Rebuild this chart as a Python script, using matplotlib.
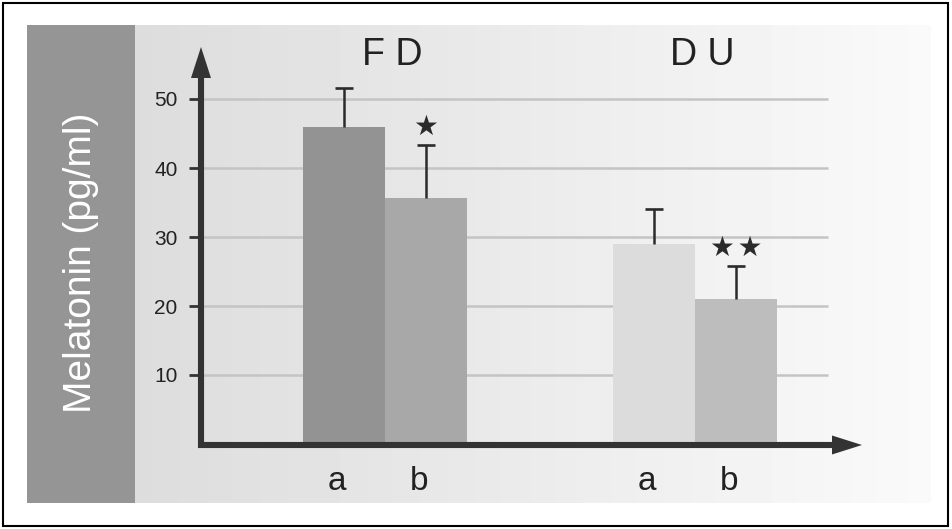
import numpy as np
import matplotlib
matplotlib.use("Agg")
import matplotlib.pyplot as plt
from matplotlib.patches import Rectangle, Polygon
from matplotlib.transforms import offset_copy

plt.rcParams['font.family'] = ['Liberation Sans', 'DejaVu Sans']

# ---- data ----
groups = ["F D", "D U"]
sub_labels = ["a", "b"]
means = [46.0, 35.7, 29.0, 21.0]
errors = [5.6, 7.6, 5.1, 4.8]
stars = ["", "★", "", "★\u200a★"]
bar_colors = ["#939393", "#a8a8a8", "#dcdcdc", "#bdbdbd"]
yticks = [10, 20, 30, 40, 50]
ylabel = "Melatonin (pg/ml)"

W, H = 952, 529
fig = plt.figure(figsize=(W / 100, H / 100), dpi=100)
fig.patch.set_facecolor("white")

def fx(px):
    return px / W

def fy(py):
    return 1 - py / H

# outer frame
fig.add_artist(Rectangle((fx(3), fy(526)), fx(945), 523 / H, fill=False,
                         edgecolor="black", lw=1.5, transform=fig.transFigure))
# dark side panel
fig.add_artist(Rectangle((fx(27), fy(503)), fx(108), 478 / H, facecolor="#959595",
                         edgecolor="none", transform=fig.transFigure))
# gradient panel
bg = fig.add_axes([fx(135), fy(503), fx(795), 478 / H])
grad = np.linspace(0.865, 0.98, 256).reshape(1, -1)
bg.imshow(grad, aspect="auto", cmap="gray", vmin=0, vmax=1, extent=[0, 1, 0, 1])
bg.set_axis_off()

fig.text(fx(81), fy(263), ylabel, rotation=90, color="white", fontsize=28,
         ha="center", va="center")

# main axes
ax = fig.add_axes([fx(201), fy(444), fx(661), 397 / H])
ax.patch.set_alpha(0)
px_per_unit = 82.0
x0 = -(344 - 201) / px_per_unit
x1 = (862 - 344) / px_per_unit
ymax = (444 - 47) / 6.9
ax.set_xlim(x0, x1)
ax.set_ylim(0, ymax)
for s in ax.spines.values():
    s.set_visible(False)

group_gap = 3.78
positions = []
for gi in range(len(groups)):
    for si in range(len(sub_labels)):
        positions.append(gi * group_gap + si)

# gridlines
grid_end = (828 - 344) / px_per_unit
ax.hlines(yticks, x0, grid_end, colors="#c4c4c4", lw=1.8, zorder=1)

ax.bar(positions, means, width=1.0, color=bar_colors, zorder=2)
tops = [m + e for m, e in zip(means, errors)]
ax.vlines(positions, means, tops, colors="#2b2b2b", lw=1.8, zorder=3)
ax.plot(positions, tops, linestyle="none", marker="_", markersize=13,
        markeredgewidth=1.9, color="#2b2b2b", zorder=3)

# significance stars
for p, t, st in zip(positions, tops, stars):
    if st:
        ax.annotate(st, (p, t), xytext=(0, 13), textcoords="offset points",
                    ha="center", va="center", fontsize=20, color="#2b2b2b",
                    family=["DejaVu Sans"])

# axis arrows (decoration)
ac = "#333333"
fig.add_artist(plt.Line2D([fx(201), fx(201)], [fy(448), fy(76)], lw=4.4, color=ac,
                          solid_capstyle="butt", transform=fig.transFigure))
fig.add_artist(Polygon([[fx(201), fy(47)], [fx(191), fy(78)], [fx(211), fy(78)]],
                       closed=True, facecolor=ac, edgecolor="none",
                       transform=fig.transFigure))
fig.add_artist(plt.Line2D([fx(198), fx(834)], [fy(445), fy(445)], lw=4.4, color=ac,
                          solid_capstyle="butt", transform=fig.transFigure))
fig.add_artist(Polygon([[fx(862), fy(445)], [fx(832), fy(435.5)], [fx(832), fy(454.5)]],
                       closed=True, facecolor=ac, edgecolor="none",
                       transform=fig.transFigure))

# y ticks
ax.set_yticks(yticks)
ax.set_yticklabels([str(t) for t in yticks], fontsize=15, color="#222222")
ax.tick_params(axis="y", length=9, width=2.0, color="#333333", pad=8)
ax.set_xticks([])

# x sub labels
lab_tr = offset_copy(ax.transData, fig=fig, x=-7, y=0, units="dots")
for i, p in enumerate(positions):
    ax.text(p, -(490 - 444) / 6.9, sub_labels[i % 2], transform=lab_tr,
            ha="center", va="baseline", fontsize=24, color="#222222", clip_on=False)

# group titles
title_tr = offset_copy(ax.transData, fig=fig, x=7, y=0, units="dots")
for gi, g in enumerate(groups):
    cx = gi * group_gap + 0.5
    ax.text(cx, (444 - 65) / 6.9, g, transform=title_tr, ha="center",
            va="baseline", fontsize=27, color="#222222", clip_on=False)

fig.savefig("out.png", dpi=100)
